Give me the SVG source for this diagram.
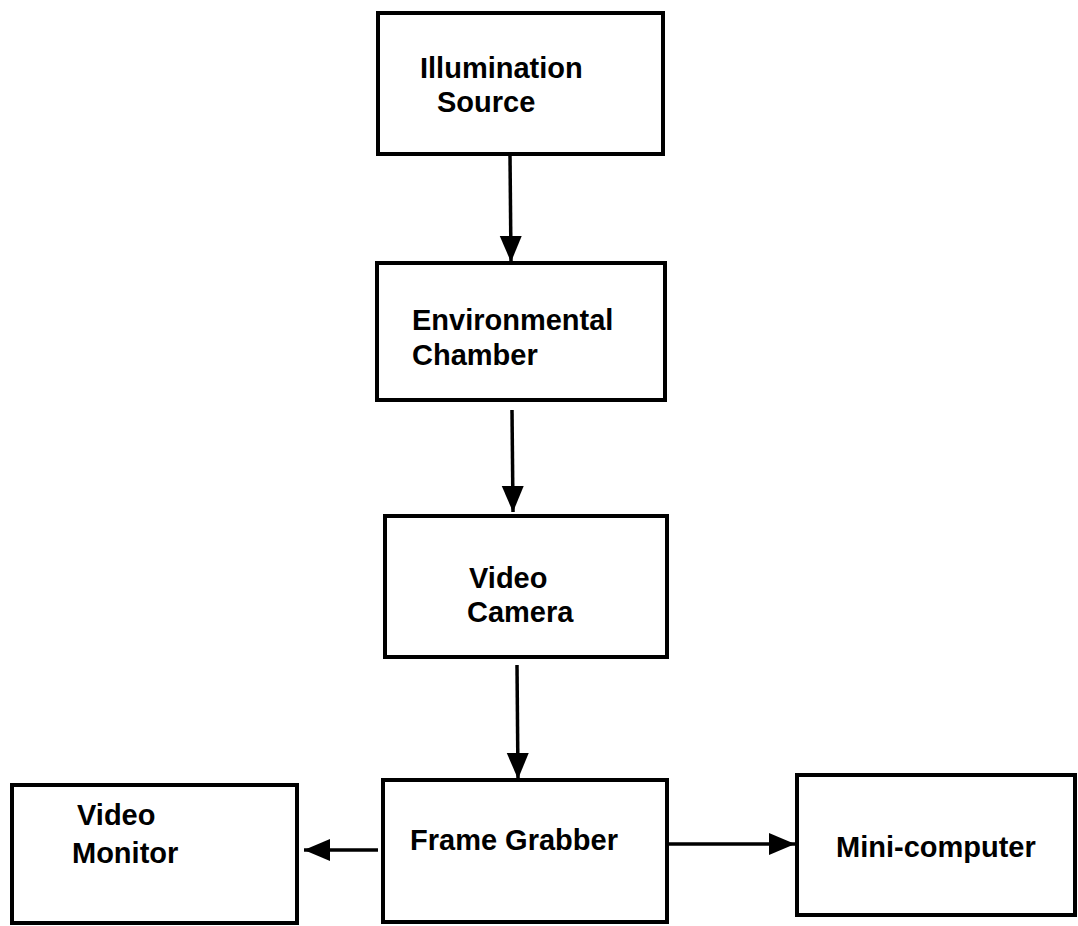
<svg xmlns="http://www.w3.org/2000/svg" width="1078" height="926" viewBox="0 0 1078 926">
<style>
.box{fill:#fff;stroke:#000;stroke-width:4}
.lbl{font-family:"Liberation Sans",Arial,sans-serif;font-weight:bold;font-size:29px;fill:#000}
.conn{stroke:#000;stroke-width:3.5;fill:none}
</style>
<defs>
<marker id="ah" markerUnits="userSpaceOnUse" markerWidth="28" markerHeight="24" refX="26" refY="12" orient="auto">
<path d="M0,1 L26,12 L0,23 Z" fill="#000"/>
</marker>
</defs>
<rect width="1078" height="926" fill="#fff"/>
<g id="illumination">
<rect class="box" x="378" y="13" width="285" height="141"/>
<text class="lbl" x="420" y="78">Illumination</text>
<text class="lbl" x="437" y="112">Source</text>
</g>
<g id="chamber">
<rect class="box" x="377" y="263" width="288" height="137"/>
<text class="lbl" x="412" y="330">Environmental</text>
<text class="lbl" x="412" y="365">Chamber</text>
</g>
<g id="camera">
<rect class="box" x="385" y="516" width="282" height="141"/>
<text class="lbl" x="469" y="588">Video</text>
<text class="lbl" x="467" y="622">Camera</text>
</g>
<g id="grabber">
<rect class="box" x="383" y="780" width="284" height="142"/>
<text class="lbl" x="410" y="850">Frame Grabber</text>
</g>
<g id="monitor">
<rect class="box" x="12" y="785" width="285" height="138"/>
<text class="lbl" x="77" y="825">Video</text>
<text class="lbl" x="72" y="863">Monitor</text>
</g>
<g id="minicomputer">
<rect class="box" x="797" y="775" width="278" height="140"/>
<text class="lbl" x="836" y="857">Mini-computer</text>
</g>
<g id="connectors">
<line class="conn" x1="510" y1="155" x2="511" y2="262" marker-end="url(#ah)"/>
<line class="conn" x1="512" y1="410" x2="513" y2="512" marker-end="url(#ah)"/>
<line class="conn" x1="517" y1="665" x2="518" y2="779" marker-end="url(#ah)"/>
<line class="conn" x1="378" y1="850" x2="304" y2="850" marker-end="url(#ah)"/>
<line class="conn" x1="668" y1="844" x2="795" y2="844" marker-end="url(#ah)"/>
</g>
</svg>
